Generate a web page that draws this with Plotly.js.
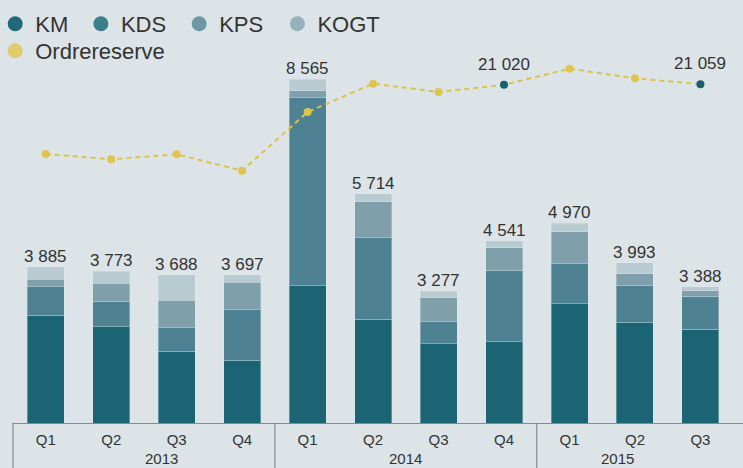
<!DOCTYPE html>
<html>
<head>
<meta charset="utf-8">
<script src="https://cdn.plot.ly/plotly-3.0.1.min.js"></script>
<style>
html,body{margin:0;padding:0;background:#dce4e8;}
#chart{width:743px;height:468px;}
</style>
</head>
<body>
<div id="chart"></div>
<script>
// ---- data ----
const years    = ['2013','2013','2013','2013','2014','2014','2014','2014','2015','2015','2015'];
const quarters = ['Q1','Q2','Q3','Q4','Q1','Q2','Q3','Q4','Q1','Q2','Q3'];
const km   = [2682, 2399, 1789, 1559, 3412, 2584, 1974, 2029, 2972, 2510, 2337];
const kds  = [ 716,  634,  587, 1256, 4681, 2033,  547, 1771,  999,  919,  822];
const kps  = [ 184,  451,  685,  686,  181,  890,  597,  566,  792,  283,  138];
const kogt = [ 303,  289,  627,  196,  291,  207,  159,  175,  207,  281,   91];
const totals = [3885, 3773, 3688, 3697, 8565, 5714, 3277, 4541, 4970, 3993, 3388];
const ordrereserve = [16718, 16389, 16700, 15680, 19329, 21088, 20572, 21020, 22020, 21423, 21059];
const labelledPoints = [7, 10];

// ---- helpers ----
function fmt(v){ return String(v).replace(/\B(?=(\d{3})+(?!\d))/g, ' '); }
const cats = years.map((y,i)=> y + ' ' + quarters[i]);
const font = 'Liberation Sans, Arial, sans-serif';
const txt = '#333333';
const xr = [-0.5, 10.65];
const plotH = 423, plotW = 730.2, left = 12.8;
const toPaper = v => (v - xr[0]) / (xr[1] - xr[0]);

const barLine = {color:'rgba(225,235,240,0.35)', width:1};
function bar(name, y, color){
  return {type:'bar', name:name, x:cats, y:y, marker:{color:color, line:barLine},
          showlegend:false, hoverinfo:'y+name'};
}
const traces = [
  bar('KM', km, '#1a6473'),
  bar('KDS', kds, '#4e8191'),
  bar('KPS', kps, '#7fa0aa'),
  bar('KOGT', kogt, '#b7cbd1'),
  {type:'scatter', mode:'lines+markers', name:'Ordrereserve', x:cats, y:ordrereserve, yaxis:'y2',
   line:{color:'#dcc24c', width:2, dash:'5px,4px'},
   marker:{size:8, color:ordrereserve.map((v,i)=>labelledPoints.includes(i)?'#17616f':'#dfc44f')},
   cliponaxis:false, showlegend:false}
];

// legend-only marker entries
const legendItems = [
  {name:'KM',   color:'#21687a', legend:'legend'},
  {name:'KDS',  color:'#3b7f8b', legend:'legend2'},
  {name:'KPS',  color:'#6d97a3', legend:'legend3'},
  {name:'KOGT', color:'#95b1bb', legend:'legend4'},
  {name:'Ordrereserve', color:'#e2cb6b', legend:'legend5'}
];
legendItems.forEach(it=>{
  traces.push({type:'scatter', mode:'markers', name:it.name, x:[cats[0]], y:[null],
               marker:{size:15, color:it.color}, legend:it.legend, showlegend:true, hoverinfo:'skip'});
});

function legendAt(px, py){
  return {x:(px-left)/plotW, y:1-py/plotH, xanchor:'left', yanchor:'middle', xref:'paper', yref:'paper',
          orientation:'h', bgcolor:'rgba(0,0,0,0)', borderwidth:0,
          font:{family:font, size:22, color:txt}};
}

// group dividers at year boundaries
const bounds = [-0.5];
years.forEach((y,i)=>{ if(i>0 && y!==years[i-1]) bounds.push(i-0.5); });
const dividers = bounds.map(b=>({
  type:'line', xref:'paper', yref:'paper', x0:toPaper(b), x1:toPaper(b),
  y0:0, y1:-45/plotH, line:{color:'#7a7a7a', width:1}
}));

const annotations = [];
// totals above the stacks
totals.forEach((t,i)=>annotations.push({
  xref:'x', yref:'y', x:cats[i], y:t, text:fmt(t), showarrow:false,
  yanchor:'bottom', yshift:-1, font:{family:font, size:17, color:txt}
}));
// order backlog labels
labelledPoints.forEach(i=>annotations.push({
  xref:'x', yref:'y2', x:cats[i], y:ordrereserve[i], text:fmt(ordrereserve[i]), showarrow:false,
  yanchor:'bottom', yshift:9, font:{family:font, size:17, color:txt}
}));
// year labels under each group
const uniqYears = [...new Set(years)];
uniqYears.forEach(yr=>{
  const idx = years.map((y,i)=>y===yr?i:null).filter(v=>v!==null);
  const mid = (idx[0] + idx[idx.length-1]) / 2;
  annotations.push({xref:'paper', yref:'paper', x:toPaper(mid), y:-45/plotH, borderpad:0,
    yanchor:'bottom', text:yr, showarrow:false, font:{family:font, size:15, color:txt}});
});

const layout = {
  width:743, height:468,
  margin:{l:left, r:0, t:0, b:45, autoexpand:false},
  paper_bgcolor:'#dce4e8', plot_bgcolor:'#dce4e8',
  barmode:'stack', bargap:0.435,
  font:{family:font, color:txt},
  xaxis:{type:'category', range:xr, showline:true, linecolor:'#8a8a8a', linewidth:1,
         ticks:'', showgrid:false, zeroline:false, tickvals:cats, ticktext:quarters,
         ticklabelstandoff:3, tickangle:0,
         tickfont:{family:font, size:15, color:txt}},
  yaxis:{range:[0, 10533], visible:false, showgrid:false, zeroline:false},
  yaxis2:{range:[0, 26289], overlaying:'y', side:'right', visible:false, showgrid:false, zeroline:false},
  shapes: dividers,
  annotations: annotations,
  legend:  legendAt(-5, 24),
  legend2: legendAt(80.7, 24),
  legend3: legendAt(179, 24),
  legend4: legendAt(277.3, 24),
  legend5: legendAt(-5, 51),
  showlegend:true
};

Plotly.newPlot('chart', traces, layout, {displayModeBar:false, staticPlot:true});
</script>
</body>
</html>
